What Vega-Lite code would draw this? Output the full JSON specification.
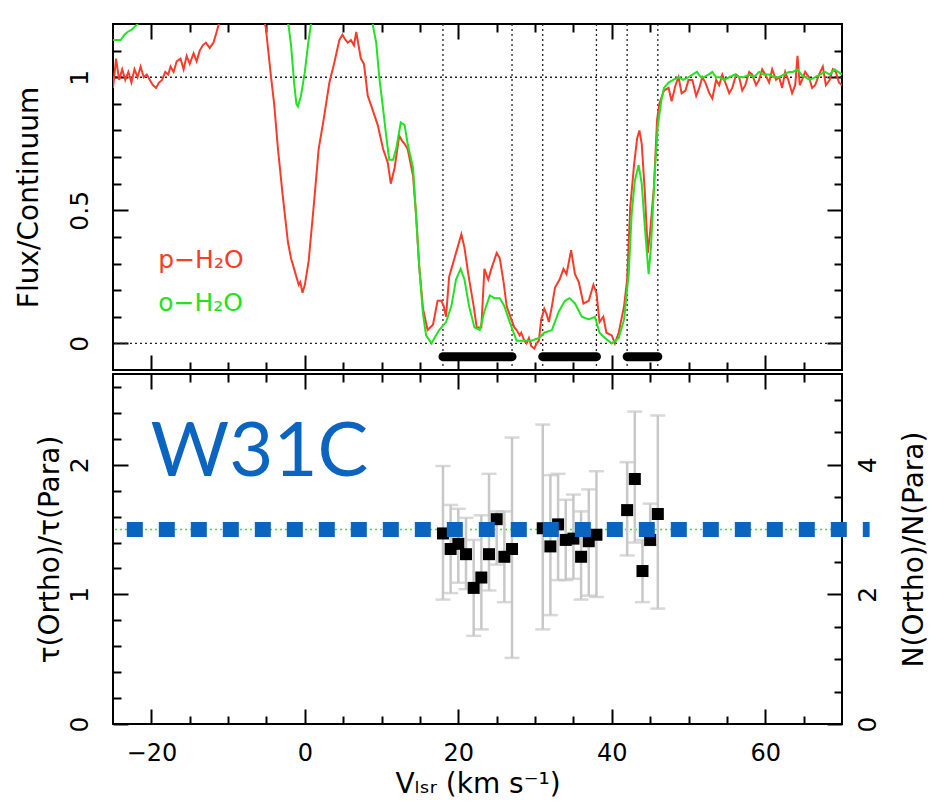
{
  "$schema": "https://vega.github.io/schema/vega-lite/v6.json",
  "background": "white",
  "padding": {"left": 14, "top": 22, "right": 0, "bottom": 0},
  "spacing": 0,
  "config": {
    "font": "DejaVu Sans",
    "view": {"stroke": "black", "strokeWidth": 2},
    "axis": {"domain": false, "grid": false, "tickColor": "black", "tickWidth": 2, "labelColor": "black", "titleColor": "black", "labelFontSize": 25, "titleFontSize": 28, "titleFontWeight": "normal", "labelFont": "DejaVu Sans", "titleFont": "DejaVu Sans"}
  },
  "datasets": {
    "spectra": [
      {"v":-25.0,"f":0.96,"s":"p−H₂O"},{"v":-24.6,"f":1.07,"s":"p−H₂O"},{"v":-24.2,"f":0.99,"s":"p−H₂O"},{"v":-23.8,"f":1.03,"s":"p−H₂O"},{"v":-23.4,"f":0.99,"s":"p−H₂O"},{"v":-23.0,"f":1.02,"s":"p−H₂O"},{"v":-22.6,"f":0.98,"s":"p−H₂O"},{"v":-22.2,"f":1.03,"s":"p−H₂O"},{"v":-21.8,"f":1.0,"s":"p−H₂O"},{"v":-21.4,"f":1.04,"s":"p−H₂O"},{"v":-21.0,"f":1.0,"s":"p−H₂O"},{"v":-20.6,"f":1.01,"s":"p−H₂O"},{"v":-20.2,"f":0.99,"s":"p−H₂O"},{"v":-19.8,"f":0.97,"s":"p−H₂O"},{"v":-19.4,"f":0.96,"s":"p−H₂O"},{"v":-19.0,"f":0.98,"s":"p−H₂O"},{"v":-18.6,"f":0.99,"s":"p−H₂O"},{"v":-18.2,"f":1.02,"s":"p−H₂O"},{"v":-17.8,"f":1.01,"s":"p−H₂O"},{"v":-17.5,"f":1.04,"s":"p−H₂O"},{"v":-17.1,"f":1.02,"s":"p−H₂O"},{"v":-16.7,"f":1.06,"s":"p−H₂O"},{"v":-16.2,"f":1.07,"s":"p−H₂O"},{"v":-15.8,"f":1.03,"s":"p−H₂O"},{"v":-15.4,"f":1.08,"s":"p−H₂O"},{"v":-15.0,"f":1.05,"s":"p−H₂O"},{"v":-14.5,"f":1.09,"s":"p−H₂O"},{"v":-14.1,"f":1.06,"s":"p−H₂O"},{"v":-13.7,"f":1.1,"s":"p−H₂O"},{"v":-13.3,"f":1.12,"s":"p−H₂O"},{"v":-12.9,"f":1.13,"s":"p−H₂O"},{"v":-12.4,"f":1.11,"s":"p−H₂O"},{"v":-11.9,"f":1.13,"s":"p−H₂O"},{"v":-11.5,"f":1.17,"s":"p−H₂O"},{"v":-11.2,"f":1.2,"s":"p−H₂O"},{"v":-10.6,"f":1.25,"s":"p−H₂O"},{"v":-9.5,"f":1.3,"s":"p−H₂O"},{"v":-8.5,"f":1.33,"s":"p−H₂O"},{"v":-7.5,"f":1.32,"s":"p−H₂O"},{"v":-6.5,"f":1.28,"s":"p−H₂O"},{"v":-5.6,"f":1.23,"s":"p−H₂O"},{"v":-5.1,"f":1.19,"s":"p−H₂O"},{"v":-4.4,"f":1.0,"s":"p−H₂O"},{"v":-4.0,"f":0.9,"s":"p−H₂O"},{"v":-3.5,"f":0.73,"s":"p−H₂O"},{"v":-2.9,"f":0.56,"s":"p−H₂O"},{"v":-2.2,"f":0.38,"s":"p−H₂O"},{"v":-1.8,"f":0.32,"s":"p−H₂O"},{"v":-1.4,"f":0.28,"s":"p−H₂O"},{"v":-0.8,"f":0.22,"s":"p−H₂O"},{"v":-0.6,"f":0.23,"s":"p−H₂O"},{"v":-0.3,"f":0.19,"s":"p−H₂O"},{"v":0.0,"f":0.22,"s":"p−H₂O"},{"v":0.5,"f":0.31,"s":"p−H₂O"},{"v":1.2,"f":0.53,"s":"p−H₂O"},{"v":1.8,"f":0.73,"s":"p−H₂O"},{"v":2.5,"f":0.85,"s":"p−H₂O"},{"v":3.2,"f":0.98,"s":"p−H₂O"},{"v":3.8,"f":1.05,"s":"p−H₂O"},{"v":4.5,"f":1.14,"s":"p−H₂O"},{"v":4.9,"f":1.16,"s":"p−H₂O"},{"v":5.3,"f":1.14,"s":"p−H₂O"},{"v":5.6,"f":1.13,"s":"p−H₂O"},{"v":6.0,"f":1.14,"s":"p−H₂O"},{"v":6.4,"f":1.12,"s":"p−H₂O"},{"v":6.7,"f":1.17,"s":"p−H₂O"},{"v":7.0,"f":1.12,"s":"p−H₂O"},{"v":7.3,"f":1.07,"s":"p−H₂O"},{"v":7.7,"f":1.05,"s":"p−H₂O"},{"v":8.2,"f":0.93,"s":"p−H₂O"},{"v":8.8,"f":0.88,"s":"p−H₂O"},{"v":9.5,"f":0.82,"s":"p−H₂O"},{"v":10.2,"f":0.73,"s":"p−H₂O"},{"v":10.8,"f":0.68,"s":"p−H₂O"},{"v":11.2,"f":0.6,"s":"p−H₂O"},{"v":11.7,"f":0.66,"s":"p−H₂O"},{"v":12.3,"f":0.78,"s":"p−H₂O"},{"v":12.7,"f":0.76,"s":"p−H₂O"},{"v":13.0,"f":0.75,"s":"p−H₂O"},{"v":13.4,"f":0.73,"s":"p−H₂O"},{"v":14.1,"f":0.63,"s":"p−H₂O"},{"v":14.5,"f":0.48,"s":"p−H₂O"},{"v":14.9,"f":0.29,"s":"p−H₂O"},{"v":15.4,"f":0.13,"s":"p−H₂O"},{"v":16.0,"f":0.05,"s":"p−H₂O"},{"v":16.7,"f":0.07,"s":"p−H₂O"},{"v":17.3,"f":0.16,"s":"p−H₂O"},{"v":17.8,"f":0.16,"s":"p−H₂O"},{"v":18.1,"f":0.14,"s":"p−H₂O"},{"v":18.4,"f":0.1,"s":"p−H₂O"},{"v":18.8,"f":0.25,"s":"p−H₂O"},{"v":19.1,"f":0.28,"s":"p−H₂O"},{"v":19.7,"f":0.34,"s":"p−H₂O"},{"v":20.4,"f":0.41,"s":"p−H₂O"},{"v":20.8,"f":0.36,"s":"p−H₂O"},{"v":21.3,"f":0.26,"s":"p−H₂O"},{"v":22.0,"f":0.14,"s":"p−H₂O"},{"v":22.4,"f":0.06,"s":"p−H₂O"},{"v":23.0,"f":0.06,"s":"p−H₂O"},{"v":23.4,"f":0.28,"s":"p−H₂O"},{"v":23.9,"f":0.24,"s":"p−H₂O"},{"v":24.3,"f":0.28,"s":"p−H₂O"},{"v":25.0,"f":0.34,"s":"p−H₂O"},{"v":25.4,"f":0.32,"s":"p−H₂O"},{"v":25.9,"f":0.23,"s":"p−H₂O"},{"v":26.3,"f":0.14,"s":"p−H₂O"},{"v":26.9,"f":0.09,"s":"p−H₂O"},{"v":27.3,"f":0.06,"s":"p−H₂O"},{"v":27.6,"f":0.05,"s":"p−H₂O"},{"v":28.0,"f":0.03,"s":"p−H₂O"},{"v":28.2,"f":0.04,"s":"p−H₂O"},{"v":28.6,"f":0.01,"s":"p−H₂O"},{"v":28.9,"f":0.0,"s":"p−H₂O"},{"v":29.2,"f":0.02,"s":"p−H₂O"},{"v":29.5,"f":-0.01,"s":"p−H₂O"},{"v":29.9,"f":-0.02,"s":"p−H₂O"},{"v":30.2,"f":0.0,"s":"p−H₂O"},{"v":30.5,"f":0.01,"s":"p−H₂O"},{"v":30.8,"f":0.09,"s":"p−H₂O"},{"v":31.2,"f":0.13,"s":"p−H₂O"},{"v":31.5,"f":0.11,"s":"p−H₂O"},{"v":31.8,"f":0.08,"s":"p−H₂O"},{"v":32.2,"f":0.14,"s":"p−H₂O"},{"v":32.6,"f":0.21,"s":"p−H₂O"},{"v":33.2,"f":0.24,"s":"p−H₂O"},{"v":33.7,"f":0.28,"s":"p−H₂O"},{"v":34.1,"f":0.26,"s":"p−H₂O"},{"v":34.7,"f":0.35,"s":"p−H₂O"},{"v":35.2,"f":0.26,"s":"p−H₂O"},{"v":35.7,"f":0.23,"s":"p−H₂O"},{"v":36.3,"f":0.15,"s":"p−H₂O"},{"v":37.0,"f":0.16,"s":"p−H₂O"},{"v":37.6,"f":0.22,"s":"p−H₂O"},{"v":38.0,"f":0.19,"s":"p−H₂O"},{"v":38.4,"f":0.08,"s":"p−H₂O"},{"v":38.9,"f":0.1,"s":"p−H₂O"},{"v":39.3,"f":0.04,"s":"p−H₂O"},{"v":40.0,"f":0.03,"s":"p−H₂O"},{"v":40.4,"f":0.0,"s":"p−H₂O"},{"v":40.9,"f":0.04,"s":"p−H₂O"},{"v":41.6,"f":0.14,"s":"p−H₂O"},{"v":42.0,"f":0.24,"s":"p−H₂O"},{"v":42.4,"f":0.51,"s":"p−H₂O"},{"v":42.9,"f":0.67,"s":"p−H₂O"},{"v":43.3,"f":0.77,"s":"p−H₂O"},{"v":43.6,"f":0.8,"s":"p−H₂O"},{"v":43.9,"f":0.75,"s":"p−H₂O"},{"v":44.3,"f":0.57,"s":"p−H₂O"},{"v":44.7,"f":0.34,"s":"p−H₂O"},{"v":45.0,"f":0.42,"s":"p−H₂O"},{"v":45.5,"f":0.59,"s":"p−H₂O"},{"v":45.9,"f":0.84,"s":"p−H₂O"},{"v":46.2,"f":0.9,"s":"p−H₂O"},{"v":46.8,"f":0.95,"s":"p−H₂O"},{"v":47.4,"f":0.96,"s":"p−H₂O"},{"v":47.8,"f":0.91,"s":"p−H₂O"},{"v":48.3,"f":0.97,"s":"p−H₂O"},{"v":48.7,"f":1.0,"s":"p−H₂O"},{"v":49.1,"f":0.94,"s":"p−H₂O"},{"v":49.6,"f":0.95,"s":"p−H₂O"},{"v":50.0,"f":0.99,"s":"p−H₂O"},{"v":50.5,"f":0.99,"s":"p−H₂O"},{"v":51.0,"f":0.93,"s":"p−H₂O"},{"v":51.4,"f":0.96,"s":"p−H₂O"},{"v":51.8,"f":1.0,"s":"p−H₂O"},{"v":52.2,"f":0.98,"s":"p−H₂O"},{"v":52.7,"f":0.94,"s":"p−H₂O"},{"v":53.1,"f":0.92,"s":"p−H₂O"},{"v":53.6,"f":0.99,"s":"p−H₂O"},{"v":54.0,"f":0.97,"s":"p−H₂O"},{"v":54.4,"f":1.01,"s":"p−H₂O"},{"v":54.8,"f":0.98,"s":"p−H₂O"},{"v":55.3,"f":0.94,"s":"p−H₂O"},{"v":55.7,"f":0.96,"s":"p−H₂O"},{"v":56.2,"f":1.01,"s":"p−H₂O"},{"v":56.6,"f":1.0,"s":"p−H₂O"},{"v":57.0,"f":0.95,"s":"p−H₂O"},{"v":57.4,"f":0.97,"s":"p−H₂O"},{"v":57.9,"f":1.02,"s":"p−H₂O"},{"v":58.3,"f":1.01,"s":"p−H₂O"},{"v":58.8,"f":0.97,"s":"p−H₂O"},{"v":59.2,"f":0.99,"s":"p−H₂O"},{"v":59.6,"f":1.03,"s":"p−H₂O"},{"v":60.0,"f":1.01,"s":"p−H₂O"},{"v":60.5,"f":0.98,"s":"p−H₂O"},{"v":60.9,"f":1.03,"s":"p−H₂O"},{"v":61.4,"f":0.99,"s":"p−H₂O"},{"v":61.8,"f":1.0,"s":"p−H₂O"},{"v":62.2,"f":0.96,"s":"p−H₂O"},{"v":62.6,"f":1.02,"s":"p−H₂O"},{"v":63.0,"f":0.99,"s":"p−H₂O"},{"v":63.5,"f":0.94,"s":"p−H₂O"},{"v":63.9,"f":0.97,"s":"p−H₂O"},{"v":64.2,"f":1.08,"s":"p−H₂O"},{"v":64.5,"f":0.97,"s":"p−H₂O"},{"v":64.8,"f":0.99,"s":"p−H₂O"},{"v":65.2,"f":1.02,"s":"p−H₂O"},{"v":65.7,"f":1.0,"s":"p−H₂O"},{"v":66.1,"f":0.96,"s":"p−H₂O"},{"v":66.5,"f":0.97,"s":"p−H₂O"},{"v":67.0,"f":1.01,"s":"p−H₂O"},{"v":67.5,"f":1.04,"s":"p−H₂O"},{"v":67.9,"f":0.97,"s":"p−H₂O"},{"v":68.4,"f":0.99,"s":"p−H₂O"},{"v":68.8,"f":1.03,"s":"p−H₂O"},{"v":69.2,"f":1.02,"s":"p−H₂O"},{"v":69.6,"f":0.98,"s":"p−H₂O"},{"v":70.0,"f":0.97,"s":"p−H₂O"},
      {"v":-25.0,"f":1.14,"s":"o−H₂O"},{"v":-24.5,"f":1.14,"s":"o−H₂O"},{"v":-24.0,"f":1.14,"s":"o−H₂O"},{"v":-23.5,"f":1.16,"s":"o−H₂O"},{"v":-23.1,"f":1.17,"s":"o−H₂O"},{"v":-22.5,"f":1.18,"s":"o−H₂O"},{"v":-21.8,"f":1.2,"s":"o−H₂O"},{"v":-21.0,"f":1.26,"s":"o−H₂O"},{"v":-19.0,"f":1.35,"s":"o−H₂O"},{"v":-15.0,"f":1.42,"s":"o−H₂O"},{"v":-10.0,"f":1.45,"s":"o−H₂O"},{"v":-6.0,"f":1.42,"s":"o−H₂O"},{"v":-4.0,"f":1.35,"s":"o−H₂O"},{"v":-2.5,"f":1.24,"s":"o−H₂O"},{"v":-2.1,"f":1.19,"s":"o−H₂O"},{"v":-1.8,"f":1.12,"s":"o−H₂O"},{"v":-1.4,"f":0.98,"s":"o−H₂O"},{"v":-1.1,"f":0.9,"s":"o−H₂O"},{"v":-0.9,"f":0.89,"s":"o−H₂O"},{"v":-0.5,"f":0.93,"s":"o−H₂O"},{"v":0.0,"f":1.02,"s":"o−H₂O"},{"v":0.4,"f":1.12,"s":"o−H₂O"},{"v":0.8,"f":1.2,"s":"o−H₂O"},{"v":1.5,"f":1.32,"s":"o−H₂O"},{"v":3.0,"f":1.45,"s":"o−H₂O"},{"v":6.0,"f":1.45,"s":"o−H₂O"},{"v":8.0,"f":1.35,"s":"o−H₂O"},{"v":8.9,"f":1.19,"s":"o−H₂O"},{"v":9.3,"f":1.13,"s":"o−H₂O"},{"v":9.7,"f":1.0,"s":"o−H₂O"},{"v":10.2,"f":0.88,"s":"o−H₂O"},{"v":10.6,"f":0.78,"s":"o−H₂O"},{"v":11.0,"f":0.69,"s":"o−H₂O"},{"v":11.5,"f":0.69,"s":"o−H₂O"},{"v":11.9,"f":0.73,"s":"o−H₂O"},{"v":12.5,"f":0.83,"s":"o−H₂O"},{"v":13.0,"f":0.82,"s":"o−H₂O"},{"v":13.4,"f":0.75,"s":"o−H₂O"},{"v":14.1,"f":0.66,"s":"o−H₂O"},{"v":14.5,"f":0.48,"s":"o−H₂O"},{"v":14.9,"f":0.29,"s":"o−H₂O"},{"v":15.4,"f":0.11,"s":"o−H₂O"},{"v":15.8,"f":0.03,"s":"o−H₂O"},{"v":16.5,"f":0.0,"s":"o−H₂O"},{"v":16.9,"f":0.02,"s":"o−H₂O"},{"v":17.5,"f":0.05,"s":"o−H₂O"},{"v":18.4,"f":0.08,"s":"o−H₂O"},{"v":19.1,"f":0.14,"s":"o−H₂O"},{"v":19.7,"f":0.24,"s":"o−H₂O"},{"v":20.3,"f":0.28,"s":"o−H₂O"},{"v":20.8,"f":0.24,"s":"o−H₂O"},{"v":21.4,"f":0.14,"s":"o−H₂O"},{"v":22.1,"f":0.06,"s":"o−H₂O"},{"v":22.8,"f":0.05,"s":"o−H₂O"},{"v":23.4,"f":0.12,"s":"o−H₂O"},{"v":24.1,"f":0.18,"s":"o−H₂O"},{"v":24.7,"f":0.17,"s":"o−H₂O"},{"v":25.4,"f":0.17,"s":"o−H₂O"},{"v":26.0,"f":0.14,"s":"o−H₂O"},{"v":26.7,"f":0.08,"s":"o−H₂O"},{"v":27.6,"f":0.01,"s":"o−H₂O"},{"v":28.5,"f":0.01,"s":"o−H₂O"},{"v":29.5,"f":0.01,"s":"o−H₂O"},{"v":30.5,"f":0.02,"s":"o−H₂O"},{"v":31.2,"f":0.04,"s":"o−H₂O"},{"v":32.2,"f":0.05,"s":"o−H₂O"},{"v":33.1,"f":0.12,"s":"o−H₂O"},{"v":33.9,"f":0.16,"s":"o−H₂O"},{"v":34.5,"f":0.17,"s":"o−H₂O"},{"v":35.2,"f":0.15,"s":"o−H₂O"},{"v":36.1,"f":0.1,"s":"o−H₂O"},{"v":37.0,"f":0.09,"s":"o−H₂O"},{"v":37.8,"f":0.1,"s":"o−H₂O"},{"v":38.4,"f":0.04,"s":"o−H₂O"},{"v":39.1,"f":0.02,"s":"o−H₂O"},{"v":40.0,"f":0.0,"s":"o−H₂O"},{"v":40.9,"f":0.02,"s":"o−H₂O"},{"v":41.6,"f":0.09,"s":"o−H₂O"},{"v":42.2,"f":0.26,"s":"o−H₂O"},{"v":42.6,"f":0.49,"s":"o−H₂O"},{"v":43.0,"f":0.61,"s":"o−H₂O"},{"v":43.5,"f":0.67,"s":"o−H₂O"},{"v":43.9,"f":0.6,"s":"o−H₂O"},{"v":44.3,"f":0.44,"s":"o−H₂O"},{"v":44.8,"f":0.26,"s":"o−H₂O"},{"v":45.1,"f":0.36,"s":"o−H₂O"},{"v":45.6,"f":0.64,"s":"o−H₂O"},{"v":46.0,"f":0.82,"s":"o−H₂O"},{"v":46.5,"f":0.92,"s":"o−H₂O"},{"v":46.8,"f":0.96,"s":"o−H₂O"},{"v":47.4,"f":0.98,"s":"o−H₂O"},{"v":48.0,"f":0.99,"s":"o−H₂O"},{"v":48.7,"f":1.0,"s":"o−H₂O"},{"v":49.3,"f":0.99,"s":"o−H₂O"},{"v":50.0,"f":1.0,"s":"o−H₂O"},{"v":50.5,"f":1.01,"s":"o−H₂O"},{"v":51.1,"f":1.02,"s":"o−H₂O"},{"v":51.6,"f":1.0,"s":"o−H₂O"},{"v":52.0,"f":1.0,"s":"o−H₂O"},{"v":52.6,"f":1.01,"s":"o−H₂O"},{"v":53.1,"f":1.02,"s":"o−H₂O"},{"v":53.6,"f":1.0,"s":"o−H₂O"},{"v":54.0,"f":1.0,"s":"o−H₂O"},{"v":54.6,"f":0.99,"s":"o−H₂O"},{"v":55.3,"f":1.0,"s":"o−H₂O"},{"v":56.0,"f":1.01,"s":"o−H₂O"},{"v":56.6,"f":1.0,"s":"o−H₂O"},{"v":57.2,"f":1.0,"s":"o−H₂O"},{"v":57.9,"f":1.01,"s":"o−H₂O"},{"v":58.5,"f":1.0,"s":"o−H₂O"},{"v":59.2,"f":1.02,"s":"o−H₂O"},{"v":59.8,"f":1.01,"s":"o−H₂O"},{"v":60.5,"f":1.01,"s":"o−H₂O"},{"v":61.1,"f":1.0,"s":"o−H₂O"},{"v":61.8,"f":1.0,"s":"o−H₂O"},{"v":62.4,"f":1.01,"s":"o−H₂O"},{"v":63.1,"f":1.02,"s":"o−H₂O"},{"v":63.6,"f":1.02,"s":"o−H₂O"},{"v":64.2,"f":1.03,"s":"o−H₂O"},{"v":64.7,"f":1.01,"s":"o−H₂O"},{"v":65.2,"f":1.0,"s":"o−H₂O"},{"v":65.8,"f":0.99,"s":"o−H₂O"},{"v":66.5,"f":1.0,"s":"o−H₂O"},{"v":67.1,"f":1.01,"s":"o−H₂O"},{"v":67.8,"f":1.02,"s":"o−H₂O"},{"v":68.4,"f":1.01,"s":"o−H₂O"},{"v":69.0,"f":1.03,"s":"o−H₂O"},{"v":69.5,"f":1.02,"s":"o−H₂O"},{"v":70.0,"f":1.01,"s":"o−H₂O"}
    ],
    "ratio": [
      {"v":18,"r":1.47,"lo":0.96,"hi":1.99},
      {"v":19,"r":1.35,"lo":1.01,"hi":1.69},
      {"v":20,"r":1.39,"lo":1.09,"hi":1.66},
      {"v":21,"r":1.31,"lo":1.04,"hi":1.59},
      {"v":22,"r":1.05,"lo":0.68,"hi":1.42},
      {"v":23,"r":1.13,"lo":0.73,"hi":1.61},
      {"v":24,"r":1.31,"lo":1.03,"hi":1.93},
      {"v":25,"r":1.58,"lo":1.23,"hi":1.64},
      {"v":26,"r":1.29,"lo":0.94,"hi":1.64},
      {"v":27,"r":1.35,"lo":0.51,"hi":2.21},
      {"v":31,"r":1.51,"lo":0.73,"hi":2.31},
      {"v":32,"r":1.37,"lo":0.84,"hi":1.92},
      {"v":33,"r":1.54,"lo":1.11,"hi":1.93},
      {"v":34,"r":1.42,"lo":1.11,"hi":1.73},
      {"v":35,"r":1.43,"lo":1.12,"hi":1.77},
      {"v":36,"r":1.29,"lo":0.96,"hi":1.64},
      {"v":37,"r":1.41,"lo":0.99,"hi":1.81},
      {"v":38,"r":1.46,"lo":0.98,"hi":1.95},
      {"v":42,"r":1.65,"lo":1.3,"hi":2.02},
      {"v":43,"r":1.89,"lo":1.4,"hi":2.41},
      {"v":44,"r":1.18,"lo":0.94,"hi":1.42},
      {"v":45,"r":1.42,"lo":1.38,"hi":1.7},
      {"v":46,"r":1.62,"lo":0.89,"hi":2.38}
    ]
  },
  "vconcat": [
    {
      "width": 729,
      "height": 346,
      "resolve": {"axis": {"x": "independent", "y": "independent"}},
      "layer": [
        {
          "data": {"values": [{"f": 0}, {"f": 1}]},
          "mark": {"type": "rule", "color": "#222", "strokeWidth": 1.3, "strokeDash": [2, 3]},
          "encoding": {
            "y": {"field": "f", "type": "quantitative", "scale": {"domain": [-0.1, 1.2], "nice": false, "zero": false},
              "axis": {"orient": "right", "labels": false, "title": null,
                "values": [0,0.1,0.2,0.3,0.4,0.5,0.6,0.7,0.8,0.9,1,1.1],
                "tickSize": {"condition": {"test": "datum.value==0||datum.value==0.5||datum.value==1", "value": -15}, "value": -8}}}
          }
        },
        {
          "data": {"values": [{"v": 18}, {"v": 27}, {"v": 31}, {"v": 38}, {"v": 42}, {"v": 46}]},
          "mark": {"type": "rule", "color": "#222", "strokeWidth": 1.3, "strokeDash": [2, 3]},
          "encoding": {
            "x": {"field": "v", "type": "quantitative", "scale": {"domain": [-25, 70], "nice": false, "zero": false},
              "axis": {"orient": "top", "labels": false, "title": null,
                "values": [-20,-15,-10,-5,0,5,10,15,20,25,30,35,40,45,50,55,60,65],
                "tickSize": {"condition": {"test": "datum.value%20==0", "value": -15}, "value": -8}}}
          }
        },
        {
          "data": {"name": "spectra"},
          "mark": {"type": "line", "strokeWidth": 2, "clip": true},
          "encoding": {
            "x": {"field": "v", "type": "quantitative", "scale": {"domain": [-25, 70], "nice": false, "zero": false},
              "axis": {"orient": "bottom", "labels": false, "title": null,
                "values": [-20,-15,-10,-5,0,5,10,15,20,25,30,35,40,45,50,55,60,65],
                "tickSize": {"condition": {"test": "datum.value%20==0", "value": -15}, "value": -8}}},
            "y": {"field": "f", "type": "quantitative", "scale": {"domain": [-0.1, 1.2], "nice": false, "zero": false},
              "axis": {"orient": "left", "title": "Flux/Continuum", "titlePadding": 24,
                "values": [0,0.1,0.2,0.3,0.4,0.5,0.6,0.7,0.8,0.9,1,1.1],
                "labelExpr": "datum.value==0?'0':datum.value==0.5?'0.5':datum.value==1?'1':''",
                "labelAngle": -90, "labelPadding": 36,
                "tickSize": {"condition": {"test": "datum.value==0||datum.value==0.5||datum.value==1", "value": -15}, "value": -8}}},
            "color": {"field": "s", "type": "nominal", "scale": {"domain": ["p−H₂O", "o−H₂O"], "range": ["#f83c2a", "#22e222"]}, "legend": null},
            "order": {"field": "v", "type": "quantitative"}
          }
        },
        {
          "data": {"values": [{"a": 18, "b": 27}, {"a": 31, "b": 38}, {"a": 42, "b": 46}]},
          "mark": {"type": "rule", "color": "black", "strokeWidth": 9, "strokeCap": "round"},
          "encoding": {
            "x": {"field": "a", "type": "quantitative", "scale": {"domain": [-25, 70], "nice": false, "zero": false}, "axis": null},
            "x2": {"field": "b"},
            "y": {"datum": -0.05, "type": "quantitative", "scale": {"domain": [-0.1, 1.2], "nice": false, "zero": false}, "axis": null}
          }
        },
        {
          "data": {"values": [{"v": -19.1, "f": 0.284, "s": "p−H₂O"}, {"v": -19.1, "f": 0.12, "s": "o−H₂O"}]},
          "mark": {"type": "text", "align": "left", "baseline": "alphabetic", "fontSize": 25, "font": "DejaVu Sans"},
          "encoding": {
            "x": {"field": "v", "type": "quantitative", "scale": {"domain": [-25, 70], "nice": false, "zero": false}, "axis": null},
            "y": {"field": "f", "type": "quantitative", "scale": {"domain": [-0.1, 1.2], "nice": false, "zero": false}, "axis": null},
            "text": {"field": "s"},
            "color": {"field": "s", "type": "nominal", "scale": {"domain": ["p−H₂O", "o−H₂O"], "range": ["#f83c2a", "#22e222"]}, "legend": null}
          }
        }
      ]
    },
    {
      "width": 729,
      "height": 350,
      "resolve": {"scale": {"y": "independent"}, "axis": {"x": "independent", "y": "independent"}},
      "layer": [
        {
          "data": {"values": [{"r": 1.5}]},
          "mark": {"type": "rule", "color": "#33e633", "strokeWidth": 1.5, "strokeDash": [2, 3]},
          "encoding": {
            "y": {"field": "r", "type": "quantitative", "scale": {"domain": [0, 2.7], "nice": false, "zero": false},
              "axis": {"orient": "left", "title": "τ(Ortho)/τ(Para)", "titlePadding": 3,
                "values": [0,0.2,0.4,0.6,0.8,1,1.2,1.4,1.6,1.8,2,2.2,2.4,2.6],
                "labelExpr": "datum.value==0?'0':datum.value==1?'1':datum.value==2?'2':''",
                "labelAngle": -90, "labelPadding": 36,
                "tickSize": {"condition": {"test": "datum.value==0||datum.value==1||datum.value==2", "value": -15}, "value": -8}}}
          }
        },
        {
          "data": {"name": "ratio"},
          "mark": {"type": "rule", "color": "#c8c8c8", "strokeWidth": 2.5},
          "encoding": {
            "x": {"field": "v", "type": "quantitative", "scale": {"domain": [-25, 70], "nice": false, "zero": false},
              "axis": {"orient": "bottom", "title": "Vₗₛᵣ (km s⁻¹)", "titlePadding": 5, "labelFontSize": 24,
                "values": [-20,-15,-10,-5,0,5,10,15,20,25,30,35,40,45,50,55,60,65],
                "labelExpr": "datum.value%20==0?datum.label:''", "labelPadding": 32,
                "tickSize": {"condition": {"test": "datum.value%20==0", "value": -15}, "value": -8}}},
            "y": {"field": "lo", "type": "quantitative", "scale": {"domain": [0, 2.7], "nice": false, "zero": false}, "axis": null},
            "y2": {"field": "hi"}
          }
        },
        {
          "data": {"name": "ratio"},
          "mark": {"type": "tick", "color": "#c8c8c8", "orient": "horizontal", "size": 15, "thickness": 2.5},
          "encoding": {
            "x": {"field": "v", "type": "quantitative", "scale": {"domain": [-25, 70], "nice": false, "zero": false}, "axis": null},
            "y": {"field": "lo", "type": "quantitative", "scale": {"domain": [0, 2.7], "nice": false, "zero": false}, "axis": null}
          }
        },
        {
          "data": {"name": "ratio"},
          "mark": {"type": "tick", "color": "#c8c8c8", "orient": "horizontal", "size": 15, "thickness": 2.5},
          "encoding": {
            "x": {"field": "v", "type": "quantitative", "scale": {"domain": [-25, 70], "nice": false, "zero": false}, "axis": null},
            "y": {"field": "hi", "type": "quantitative", "scale": {"domain": [0, 2.7], "nice": false, "zero": false}, "axis": null}
          }
        },
        {
          "data": {"name": "ratio"},
          "mark": {"type": "square", "color": "black", "opacity": 1, "size": 144, "filled": true},
          "encoding": {
            "x": {"field": "v", "type": "quantitative", "scale": {"domain": [-25, 70], "nice": false, "zero": false},
              "axis": {"orient": "top", "labels": false, "title": null,
                "values": [-20,-15,-10,-5,0,5,10,15,20,25,30,35,40,45,50,55,60,65],
                "tickSize": {"condition": {"test": "datum.value%20==0", "value": -15}, "value": -8}}},
            "y": {"field": "r", "type": "quantitative", "scale": {"domain": [0, 2.7], "nice": false, "zero": false}, "axis": null}
          }
        },
        {
          "data": {"values": [{"a": -23.2, "b": 73.6, "n": 3.0}]},
          "mark": {"type": "rule", "color": "#0a64c0", "strokeWidth": 15, "strokeDash": [16, 16], "strokeCap": "butt"},
          "encoding": {
            "x": {"field": "a", "type": "quantitative", "scale": {"domain": [-25, 70], "nice": false, "zero": false}, "axis": null},
            "x2": {"field": "b"},
            "y": {"field": "n", "type": "quantitative", "scale": {"domain": [0, 5.4], "nice": false, "zero": false},
              "axis": {"orient": "right", "title": "N(Ortho)/N(Para)", "titleAngle": -90, "titleBaseline": "top", "titlePadding": 20,
                "values": [0,0.5,1,1.5,2,2.5,3,3.5,4,4.5,5],
                "labelExpr": "datum.value==0?'0':datum.value==2?'2':datum.value==4?'4':''",
                "labelAngle": -90, "labelPadding": 28,
                "tickSize": {"condition": {"test": "datum.value==0||datum.value==2||datum.value==4", "value": -15}, "value": -8}}}
          }
        },
        {
          "data": {"values": [{"v": -20.1, "r": 1.91, "label": "W31C"}]},
          "mark": {"type": "text", "align": "left", "baseline": "alphabetic", "font": "Lato", "fontSize": 76, "color": "#0a64c0"},
          "encoding": {
            "x": {"field": "v", "type": "quantitative", "scale": {"domain": [-25, 70], "nice": false, "zero": false}, "axis": null},
            "y": {"field": "r", "type": "quantitative", "scale": {"domain": [0, 2.7], "nice": false, "zero": false}, "axis": null},
            "text": {"field": "label"}
          }
        }
      ]
    }
  ]
}
